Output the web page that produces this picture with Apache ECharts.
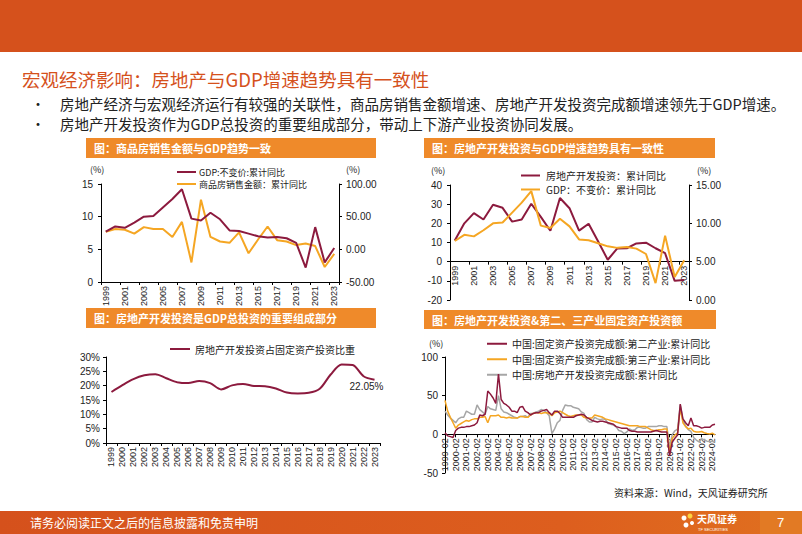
<!DOCTYPE html>
<html><head><meta charset="utf-8">
<script src="https://cdn.jsdelivr.net/npm/echarts@6/dist/echarts.min.js"></script>
<style>html,body{margin:0;padding:0;background:#fff;}#c{width:802px;height:534px;}</style>
</head><body><div id="c"></div>
<script>
// ---------- DATA ----------
const years = ['1999','2000','2001','2002','2003','2004','2005','2006','2007','2008','2009','2010','2011','2012','2013','2014','2015','2016','2017','2018','2019','2020','2021','2022','2023'];
const gdpGrowth = [7.7,8.5,8.3,9.1,10.0,10.1,11.4,12.7,14.2,9.7,9.4,10.6,9.6,7.9,7.8,7.4,7.0,6.8,6.9,6.7,6.0,2.2,8.4,3.0,5.2];
const salesGrowth = [27,31,30,24,34,31,31,19,42,-20,76,19,12,10,26,-6,15,35,14,12,6.5,9,5,-27,-7];
const reInvGrowth = [11,20,25.3,22,29.7,28.1,20.9,22,30.2,23.4,16.1,33.2,27.9,16.2,19.8,10.5,1.0,6.9,7.0,9.5,9.9,7.0,4.4,-10.0,-9.6];
const reShare = [17.8,20.2,22.3,23.6,24.0,22.6,21.2,20.9,21.6,20.9,18.7,20.1,20.6,19.9,19.8,19.0,17.6,17.3,17.5,18.9,23.9,27.4,27.2,23.3,22.05];
const monthCats = (function(){const a=[];for(let y=1999;y<=2023;y++){['02','05','08','11'].forEach(m=>a.push(y+'-'+m));}a.push('2024-02','2024-04');return a;})();
const fai2nd = [2,-2,-3,-4, 5,8,9,9, 10,10,11,12, 15,25,24,26, 56,52,47,40, 78,45,40,38, 35,30,30,28, 35,36,30,28, 25,27,28,28, 30,31,32,28, 25,30,30,27, 22,22,22,22, 22,24,25,26, 25,22,20,18, 17,16,17,17, 16,15,14,13, 10,9,8,8, 8,5,4,4, 3,3,3,3, 3,3,4,5, 4,3,3,3, -28,-10,-5,-1, 39,20,15,11, 21,11,11,10, 8,9,9,9, 12,13];
const fai3rd = [44,30,22,15, 8,12,14,16, 18,17,19,20, 20,22,22,23, 15,24,24,24, 25,22,22,21, 22,21,21,21, 23,23,22,22, 25,27,28,28, 27,28,28,27, 24,28,29,30, 28,26,24,23, 24,25,25,25, 22,21,21,21, 25,24,23,22, 20,19,18,17, 16,15,14,13, 12,11,11,11, 11,10,10,10, 8,6,5,5, 6,6,7,7, -23,-5,-1,2, 34,15,10,7, 8,4,3,3, 3.6,2,1,0.5, 1.5,-0.6];
const reInvMonthly = [30,25,21,18, 15,20,22,22, 30,28,26,26, 38,32,29,26, 36,33,32,31, 50,33,29,28, 26,24,22,21, 23,23,24,22, 27,27,29,30, 32,31,28,24, 1,7,15,18, 31,38,37,37, 35,34,33,29, 27,19,16,16, 22,20,19,20, 19,14,13,12, 10,5,4,1, 3,7,5,6, 9,9,8,8, 10,10,10,10, 11,11,10,10, -16,-0.3,4.6,6.8, 38,18,11,6, 3.7,-4,-7.4,-9.8, -5.7,-7.2,-8.8,-9.4, -9,-9.8];

const RED='#8C1A3E', ORG='#F5A623', GRY='#A6A6A6', BAND='#D5511C', HEAD='#EF8A2A';
const CJK='"Noto Sans CJK SC"';
const axTxt={color:'#222',fontSize:10,fontFamily:'"Liberation Sans",Arial'};
const axLine={show:true,lineStyle:{color:'#000',width:1}};

// axis ranges
const g2 = {h:115,min:-20,max:40};
const g4 = {h:116,min:-50,max:100};
const zeroOffset = g => -g.h*(0-g.min)/(g.max-g.min);

function txt(t,x,y,size,color,opt){return {type:'text',silent:true,style:Object.assign({text:t,x:x,y:y,fill:color,font:size+'px '+CJK,textVerticalAlign:'middle'},opt||{})};}
function rect(x,y,w,h,fill){return {type:'rect',shape:{x:x,y:y,width:w,height:h},style:{fill:fill},silent:true};}

const chart=echarts.init(document.getElementById('c'),null,{renderer:'svg'});
const tick={show:true,length:3,lineStyle:{color:'#000'}};
chart.setOption({
  animation:false,
  backgroundColor:'#fff',
  grid:[
    {left:101,top:184,width:238,height:98},
    {left:450,top:185,width:239,height:g2.h},
    {left:106,top:357,width:274,height:86},
    {left:445,top:357,width:270,height:g4.h}
  ],
  xAxis:[
    {gridIndex:0,type:'category',data:years,boundaryGap:true,axisLine:axLine,axisTick:tick,axisLabel:Object.assign({},axTxt,{rotate:90,interval:1,fontSize:9,margin:4}),splitLine:{show:false}},
    {gridIndex:1,type:'category',data:years,boundaryGap:true,offset:zeroOffset(g2),axisLine:Object.assign({onZero:false},axLine),axisTick:tick,axisLabel:Object.assign({},axTxt,{rotate:90,interval:1,fontSize:9,margin:4}),splitLine:{show:false}},
    {gridIndex:2,type:'category',data:years,boundaryGap:true,axisLine:axLine,axisTick:tick,axisLabel:Object.assign({},axTxt,{rotate:90,interval:0,fontSize:9,margin:4}),splitLine:{show:false}},
    {gridIndex:3,type:'category',data:monthCats,boundaryGap:false,offset:zeroOffset(g4),axisLine:Object.assign({onZero:false},axLine),axisTick:{show:true,length:3,interval:function(i,v){return v.slice(5)==='02';},lineStyle:{color:'#000'}},axisLabel:Object.assign({},axTxt,{rotate:90,interval:function(i,v){return v.slice(5)==='02';},fontSize:9,margin:4}),splitLine:{show:false}}
  ],
  yAxis:[
    {gridIndex:0,type:'value',min:0,max:15,interval:5,axisLine:axLine,axisTick:tick,axisLabel:Object.assign({},axTxt,{margin:8}),splitLine:{show:false}},
    {gridIndex:0,type:'value',position:'right',min:-50,max:100,interval:50,axisLine:axLine,axisTick:tick,axisLabel:Object.assign({},axTxt,{margin:7,formatter:v=>v.toFixed(2)}),splitLine:{show:false}},
    {gridIndex:1,type:'value',min:g2.min,max:g2.max,interval:10,axisLine:axLine,axisTick:tick,axisLabel:Object.assign({},axTxt,{margin:8}),splitLine:{show:false}},
    {gridIndex:1,type:'value',position:'right',min:0,max:15,interval:5,axisLine:axLine,axisTick:tick,axisLabel:Object.assign({},axTxt,{margin:7,formatter:v=>v.toFixed(2)}),splitLine:{show:false}},
    {gridIndex:2,type:'value',min:0,max:30,interval:5,axisLine:axLine,axisTick:tick,axisLabel:Object.assign({},axTxt,{margin:6,formatter:'{value}%'}),splitLine:{show:false}},
    {gridIndex:3,type:'value',min:g4.min,max:g4.max,interval:50,axisLine:axLine,axisTick:tick,axisLabel:Object.assign({},axTxt,{margin:7}),splitLine:{show:false}}
  ],
  legend:[
    {data:['GDP:不变价:累计同比','商品房销售金额：累计同比'],orient:'vertical',left:172,top:162,itemWidth:19,itemHeight:2,itemGap:2,icon:'rect',textStyle:{fontSize:9,lineHeight:10,height:10,fontFamily:CJK,color:'#222',padding:[0,0,0,-2]}},
    {data:['房地产开发投资：累计同比','GDP：不变价：累计同比'],orient:'vertical',left:516,top:165,itemWidth:19,itemHeight:2,itemGap:3,icon:'rect',textStyle:{fontSize:10,lineHeight:11,height:11,fontFamily:CJK,color:'#222',padding:[0,0,0,1]}},
    {data:['房地产开发投资占固定资产投资比重'],left:165,top:339,itemWidth:20,itemHeight:2,icon:'rect',textStyle:{fontSize:10,fontFamily:CJK,color:'#222'}},
    {data:['中国:固定资产投资完成额:第二产业:累计同比','中国:固定资产投资完成额:第三产业:累计同比','中国:房地产开发投资完成额:累计同比'],orient:'vertical',left:482,top:333,itemWidth:20,itemHeight:2,itemGap:4,icon:'rect',textStyle:{fontSize:10,lineHeight:11.5,height:11.5,fontFamily:CJK,color:'#222'}}
  ],
  series:[
    {name:'GDP:不变价:累计同比',type:'line',xAxisIndex:0,yAxisIndex:0,data:gdpGrowth,symbol:'none',lineStyle:{color:RED,width:2},itemStyle:{color:RED},z:3},
    {name:'商品房销售金额：累计同比',type:'line',xAxisIndex:0,yAxisIndex:1,data:salesGrowth,symbol:'none',lineStyle:{color:ORG,width:2},itemStyle:{color:ORG},z:2},
    {name:'房地产开发投资：累计同比',type:'line',xAxisIndex:1,yAxisIndex:2,data:reInvGrowth,symbol:'none',lineStyle:{color:RED,width:2},itemStyle:{color:RED},z:2},
    {name:'GDP：不变价：累计同比',type:'line',xAxisIndex:1,yAxisIndex:3,data:gdpGrowth,symbol:'none',lineStyle:{color:ORG,width:2},itemStyle:{color:ORG},z:3},
    {name:'房地产开发投资占固定资产投资比重',type:'line',xAxisIndex:2,yAxisIndex:4,smooth:0.3,symbol:'none',lineStyle:{color:RED,width:2},itemStyle:{color:RED},data:reShare,
      endLabel:{show:true,formatter:p=>p.value.toFixed(2)+'%',offset:[-33,7],fontSize:10,color:'#222',fontFamily:'"Liberation Sans",Arial'}},
    {name:'中国:固定资产投资完成额:第二产业:累计同比',type:'line',xAxisIndex:3,yAxisIndex:5,data:fai2nd,symbol:'none',lineStyle:{color:RED,width:1.5},itemStyle:{color:RED},z:4},
    {name:'中国:固定资产投资完成额:第三产业:累计同比',type:'line',xAxisIndex:3,yAxisIndex:5,data:fai3rd,symbol:'none',lineStyle:{color:ORG,width:1.5},itemStyle:{color:ORG},z:3},
    {name:'中国:房地产开发投资完成额:累计同比',type:'line',xAxisIndex:3,yAxisIndex:5,data:reInvMonthly,symbol:'none',lineStyle:{color:GRY,width:1.5},itemStyle:{color:GRY},z:2}
  ],
  graphic:[
    rect(0,0,802,52,BAND),
    txt('宏观经济影响：房地产与GDP增速趋势具有一致性',22,79,18.5,BAND),
    txt('•',31,103,14,'#222'),
    txt('房地产经济与宏观经济运行有较强的关联性，商品房销售金额增速、房地产开发投资完成额增速领先于GDP增速。',60,103,14.5,'#222'),
    txt('•',31,123,14,'#222'),
    txt('房地产开发投资作为GDP总投资的重要组成部分，带动上下游产业投资协同发展。',60,123,14.5,'#222'),
    rect(86,138,290,20,HEAD), txt('图：商品房销售金额与GDP趋势一致',94,148,11,'#fff',{font:'bold 11px '+CJK}),
    rect(424,138,291,20,HEAD), txt('图：房地产开发投资与GDP增速趋势具有一致性',432,148,11,'#fff',{font:'bold 11px '+CJK}),
    rect(86,308,290,20,HEAD), txt('图：房地产开发投资是GDP总投资的重要组成部分',94,318,11,'#fff',{font:'bold 11px '+CJK}),
    rect(424,310,292,19,HEAD), txt('图：房地产开发投资&第二、三产业固定资产投资额',432,320,11,'#fff',{font:'bold 11px '+CJK}),
    txt('(%)',90,169,9,'#222'), txt('(%)',346,169,9,'#222'),
    txt('(%)',431,170,9,'#222'), txt('(%)',697,170,9,'#222'),
    txt('(%)',429,343,9,'#222'),
    txt('资料来源：Wind，天风证券研究所',614,492,10,'#222'),
    {type:'rect',shape:{x:0,y:511,width:802,height:23},style:{fill:new echarts.graphic.LinearGradient(0,0,1,0,[{offset:0,color:'#D5511C'},{offset:0.7,color:'#DD5E1E'},{offset:1,color:'#E0701F'}])},silent:true},
    rect(760,511,42,23,'#E27A24'),
    txt('请务必阅读正文之后的信息披露和免责申明',30,522,12,'#fff'),
    {type:'circle',shape:{cx:684,cy:518,r:2.5},style:{fill:'#fff'},silent:true},
    {type:'circle',shape:{cx:690,cy:516,r:2.5},style:{fill:'#FFD23F'},silent:true},
    {type:'circle',shape:{cx:686,cy:525,r:2.5},style:{fill:'#fff'},silent:true},
    {type:'circle',shape:{cx:692,cy:523,r:2},style:{fill:'#fff'},silent:true},
    txt('天风证券',697,518,10,'#fff',{font:'bold 10px '+CJK}),
    txt('TF SECURITIES',698,529,4,'#fff',{font:'4px "Liberation Sans",Arial'}),
    txt('7',777,522,13,'#fff',{font:'13px "Liberation Sans",Arial'})
  ]
});
</script></body></html>
